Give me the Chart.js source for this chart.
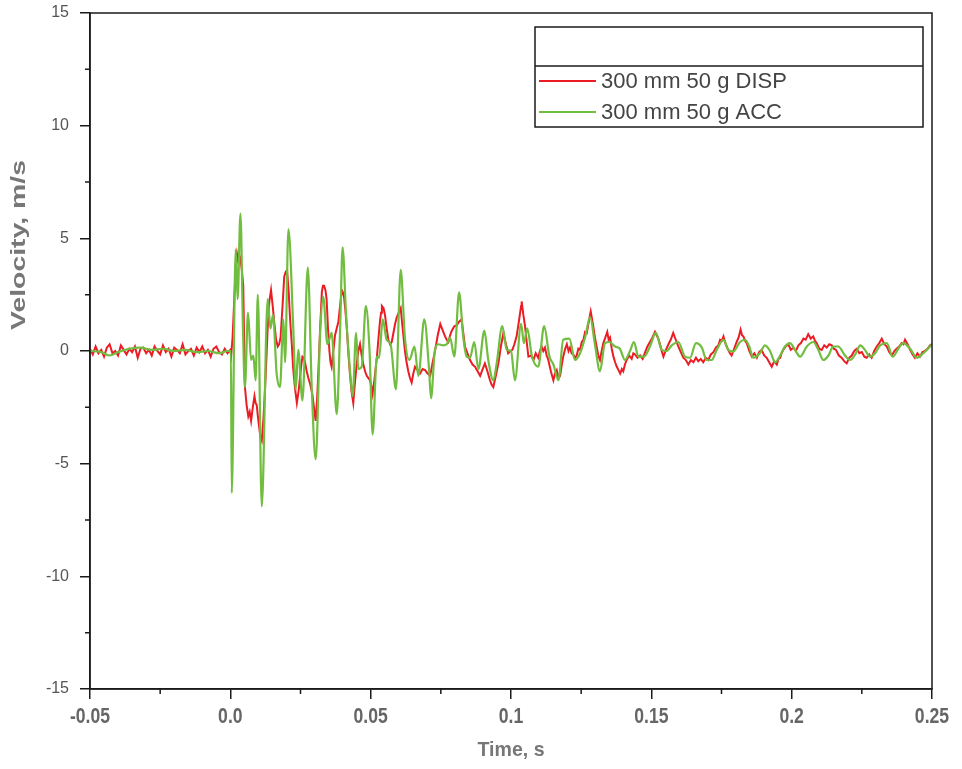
<!DOCTYPE html>
<html>
<head>
<meta charset="utf-8">
<script src="https://cdn.jsdelivr.net/npm/chart.js@4.4.1/dist/chart.umd.min.js"></script>
<style>
  html, body { margin: 0; padding: 0; background: #fff; }
  #wrap { width: 962px; height: 769px; }
</style>
</head>
<body>
<div id="wrap"><canvas id="velocityChart" width="962" height="769"></canvas></div>
<script>
// Velocity traces, 300 mm drop height, 50 g mass
const seriesLabels = ['300 mm 50 g DISP', '300 mm 50 g ACC'];

const dispTime = [
  -0.050,-0.049,-0.048,-0.047,-0.046,-0.045,-0.044,-0.043,-0.042,-0.041,
  -0.040,-0.039,-0.038,-0.037,-0.036,-0.035,-0.034,-0.033,-0.032,-0.031,
  -0.030,-0.029,-0.028,-0.027,-0.026,-0.025,-0.024,-0.023,-0.022,-0.021,
  -0.020,-0.019,-0.018,-0.017,-0.016,-0.015,-0.014,-0.013,-0.012,-0.011,
  -0.010,-0.009,-0.008,-0.007,-0.006,-0.005,-0.004,-0.003,-0.002,-0.001,
  0.0000,0.0003,0.0008,0.0013,0.0018,0.0024,0.0030,0.0036,0.0041,0.0046,
  0.0052,0.0058,0.0064,0.0069,0.0074,0.0080,0.0086,0.0090,0.0094,0.0099,
  0.0103,0.0108,0.0112,0.0118,0.0124,0.0129,0.0133,0.0139,0.0145,0.0151,
  0.0157,0.0163,0.0169,0.0174,0.0179,0.0186,0.0192,0.0197,0.0202,0.0208,
  0.0213,0.0219,0.0224,0.0230,0.0237,0.0243,0.0248,0.0253,0.0257,0.0262,
  0.0266,0.0272,0.0278,0.0285,0.0292,0.0298,0.0304,0.0309,0.0314,0.0320,
  0.0326,0.0330,0.0334,0.0339,0.0343,0.0348,0.0353,0.0357,0.0361,0.0367,
  0.0373,0.0379,0.0385,0.0391,0.0397,0.0401,0.0405,0.0410,0.0415,0.0420,
  0.0426,0.0432,0.0438,0.0444,0.0450,0.0456,0.0462,0.0468,0.0474,0.0480,
  0.0486,0.0492,0.0498,0.0503,0.0507,0.0514,0.0522,0.0528,0.0533,0.0537,
  0.0540,0.0546,0.0551,0.0557,0.0563,0.0569,0.0575,0.0581,0.0587,0.0593,
  0.0600,0.0607,0.0614,0.0622,0.0628,0.0634,0.0640,0.0646,0.0652,0.0658,
  0.0664,0.0670,0.0676,0.0685,0.0694,0.0703,0.0712,0.0721,0.0730,0.0739,
  0.0748,0.0757,0.0765,0.0771,0.0777,0.0783,0.0789,0.0798,0.0807,0.0815,
  0.0824,0.0830,0.0836,0.0845,0.0854,0.0863,0.0872,0.0881,0.0890,0.0899,
  0.0907,0.0916,0.0925,0.0931,0.0937,0.0946,0.0955,0.0964,0.0973,0.0982,
  0.0990,0.0998,0.1005,0.1012,0.1020,0.1028,0.1036,0.1038,0.1044,0.1050,
  0.1056,0.1062,0.1071,0.1080,0.1088,0.1097,0.1103,0.1109,0.1115,0.1121,
  0.1127,0.1133,0.1142,0.1151,0.1157,0.1163,0.1169,0.1175,0.1181,0.1186,
  0.1193,0.1199,0.1205,0.1210,0.1216,0.1222,0.1228,0.1234,0.1240,0.1246,
  0.1252,0.1258,0.1264,0.1270,0.1277,0.1284,0.1289,0.1293,0.1299,0.1305,
  0.1311,0.1317,0.1323,0.1329,0.1336,0.1343,0.1348,0.1353,0.1359,0.1365,
  0.1371,0.1377,0.1383,0.1389,0.1395,0.1400,0.1406,0.1412,0.1421,0.1430,
  0.1436,0.1442,0.1451,0.1460,0.1469,0.1478,0.1486,0.1495,0.1504,0.1513,
  0.1519,0.1525,0.1531,0.1537,0.1543,0.1552,0.1561,0.1569,0.1578,0.1587,
  0.1596,0.1605,0.1614,0.1623,0.1632,0.1641,0.1650,0.1659,0.1667,0.1676,
  0.1685,0.1694,0.1703,0.1712,0.1721,0.1730,0.1739,0.1745,0.1751,0.1757,
  0.1765,0.1774,0.1780,0.1786,0.1795,0.1804,0.1811,0.1818,0.1823,0.1828,
  0.1834,0.1840,0.1849,0.1858,0.1867,0.1876,0.1884,0.1893,0.1902,0.1911,
  0.1920,0.1929,0.1938,0.1947,0.1953,0.1959,0.1964,0.1970,0.1979,0.1988,
  0.1997,0.2006,0.2015,0.2024,0.2033,0.2042,0.2050,0.2059,0.2068,0.2077,
  0.2083,0.2089,0.2098,0.2107,0.2116,0.2125,0.2134,0.2143,0.2150,0.2158,
  0.2168,0.2178,0.2187,0.2196,0.2205,0.2214,0.2223,0.2232,0.2241,0.2250,
  0.2259,0.2267,0.2276,0.2285,0.2294,0.2303,0.2312,0.2321,0.2330,0.2339,
  0.2348,0.2357,0.2366,0.2374,0.2383,0.2392,0.2398,0.2404,0.2413,0.2422,
  0.2431,0.2439,0.2448,0.2457,0.2466,0.2475,0.2484,0.2493,0.2500
];
const dispVel = [
  0.10,-0.15,0.20,-0.10,0.05,-0.25,0.15,0.30,-0.10,0.00,
  -0.20,0.25,0.05,-0.15,0.10,-0.05,0.20,-0.30,0.10,0.15,
  -0.10,0.05,-0.20,0.20,0.00,-0.15,0.25,-0.05,0.10,-0.25,
  0.15,0.05,-0.10,0.30,-0.15,0.00,0.10,-0.20,0.15,-0.05,
  0.20,-0.10,0.05,-0.25,0.10,0.20,-0.05,-0.15,0.10,-0.10,
  0.05,-0.20,0.6,2.0,3.4,4.3,3.9,4.1,3.6,2.9,
  -1.6,-2.4,-2.9,-2.7,-3.1,-2.5,-2.0,-2.3,-2.4,-3.0,
  -3.4,-3.9,-4.0,-3.0,-1.6,-0.2,1.0,2.2,2.7,2.0,
  1.2,0.5,0.2,0.3,0.6,2.0,3.3,3.5,3.6,2.6,
  1.4,0.3,-0.8,-1.6,-2.3,-1.8,-1.2,-0.6,-0.25,-0.3,
  -0.5,-0.9,-1.2,-1.5,-1.9,-2.5,-3.1,-2.2,-0.8,1.0,
  2.6,2.9,2.9,2.7,2.3,1.0,0.0,-0.5,-0.7,0.0,
  0.7,1.0,1.3,2.0,2.7,2.6,2.4,1.8,1.0,0.0,
  -1.0,-1.8,-2.3,-1.4,-0.6,0.0,0.3,-0.2,-0.6,-0.9,
  -1.1,-1.2,-1.3,-1.6,-1.9,-1.2,-0.3,0.6,1.3,1.7,
  2.0,1.9,1.6,1.0,0.5,0.3,0.4,0.8,1.2,1.5,
  1.7,1.9,1.0,0.0,-0.5,-0.9,-1.2,-1.4,-1.0,-0.7,
  -0.8,-0.9,-1.0,-0.8,-0.85,-1.0,-1.1,-0.5,0.05,0.7,
  1.2,0.9,0.65,0.5,0.4,0.7,0.9,1.1,1.15,1.3,
  1.4,0.8,0.2,-0.1,-0.4,-0.6,-0.7,-0.9,-1.1,-0.8,
  -0.55,-0.9,-1.3,-1.5,-1.6,-1.1,-0.55,0.2,0.8,0.3,
  -0.1,0.0,0.05,0.3,0.65,1.3,2.0,2.2,1.6,1.1,
  0.4,-0.25,-0.2,-0.4,-0.1,-0.3,0.0,0.2,0.0,0.15,
  -0.2,-0.4,-0.9,-1.3,-1.0,-0.85,-1.2,-1.1,-0.6,-0.25,
  0.1,0.3,0.0,0.15,-0.1,-0.15,-0.3,-0.2,0.1,0.05,
  0.4,0.5,0.85,0.8,1.3,1.75,1.4,1.1,0.6,0.2,
  -0.2,-0.4,0.0,0.35,0.6,0.85,0.5,0.6,0.1,-0.25,
  -0.5,-0.7,-0.85,-1.0,-0.8,-0.9,-0.6,-0.4,-0.2,-0.35,
  -0.1,-0.15,-0.3,-0.2,-0.35,-0.05,0.2,0.4,0.6,0.85,
  0.7,0.55,0.3,0.0,-0.25,0.05,0.3,0.5,0.8,0.5,
  0.2,-0.05,-0.3,-0.4,-0.6,-0.4,-0.5,-0.3,-0.45,-0.35,
  -0.5,-0.3,-0.4,-0.15,-0.05,0.15,0.25,0.5,0.45,0.65,
  0.3,0.05,-0.1,-0.2,0.1,0.4,0.6,0.95,0.7,0.65,
  0.45,0.35,0.0,-0.25,-0.1,-0.3,-0.05,0.05,-0.2,-0.3,
  -0.5,-0.7,-0.45,-0.6,-0.35,-0.3,-0.1,0.05,0.2,0.3,
  0.05,0.15,0.0,0.25,0.35,0.55,0.5,0.75,0.55,0.65,
  0.45,0.35,0.1,0.05,0.25,0.15,0.3,0.25,0.1,0.05,
  -0.2,-0.3,-0.45,-0.55,-0.3,-0.2,0.0,0.1,-0.1,-0.05,
  -0.25,-0.3,-0.15,-0.3,0.0,0.2,0.35,0.55,0.3,0.2,
  -0.05,-0.2,0.0,0.1,0.2,0.35,0.3,0.5,0.3,0.05,
  -0.15,-0.3,-0.1,-0.25,-0.05,0.0,0.1,0.25,0.3
];

const accTime = [
  -0.050,-0.046,-0.043,-0.040,-0.036,-0.032,-0.028,-0.024,-0.020,-0.016,
  -0.012,-0.008,-0.004,-0.001,0.0002,0.0005,0.0019,0.0026,0.0036,0.0045,
  0.0052,0.0063,0.0074,0.0082,0.0090,0.0098,0.0112,0.0133,0.0143,0.0152,
  0.0165,0.0177,0.0189,0.0195,0.0207,0.0224,0.0233,0.0242,0.0257,0.0276,
  0.0290,0.0304,0.0320,0.0331,0.0346,0.0361,0.0379,0.0391,0.0400,0.0412,
  0.0426,0.0436,0.0448,0.0456,0.0468,0.0483,0.0496,0.0507,0.0522,0.0530,
  0.0543,0.0557,0.0571,0.0590,0.0607,0.0622,0.0638,0.0656,0.0670,0.0691,
  0.0708,0.0715,0.0729,0.0741,0.0759,0.0771,0.0783,0.0798,0.0815,0.0830,
  0.0842,0.0854,0.0869,0.0884,0.0905,0.0919,0.0937,0.0949,0.0969,0.0985,
  0.1000,0.1014,0.1036,0.1046,0.1058,0.1074,0.1097,0.1118,0.1137,0.1151,
  0.1169,0.1186,0.1208,0.1228,0.1246,0.1264,0.1282,0.1299,0.1317,0.1335,
  0.1350,0.1371,0.1388,0.1406,0.1424,0.1438,0.1454,0.1474,0.1495,0.1516,
  0.1537,0.1555,0.1573,0.1596,0.1620,0.1638,0.1659,0.1680,0.1697,0.1715,
  0.1733,0.1757,0.1774,0.1792,0.1816,0.1834,0.1849,0.1863,0.1887,0.1905,
  0.1923,0.1941,0.1959,0.1976,0.1994,0.2012,0.2030,0.2054,0.2077,0.2095,
  0.2113,0.2131,0.2148,0.2166,0.2190,0.2208,0.2229,0.2244,0.2261,0.2279,
  0.2297,0.2315,0.2339,0.2360,0.2380,0.2398,0.2422,0.2446,0.2469,0.2493,
  0.2500
];
const accVel = [
  0.0,-0.05,-0.2,-0.05,0.1,0.15,0.05,0.1,0.0,0.05,
  -0.05,0.0,-0.1,0.0,0.0,-6.3,4.5,2.3,6.1,1.0,
  -1.6,1.7,-0.4,-0.2,-1.3,2.5,-6.9,2.3,1.0,1.6,
  -1.0,-1.6,1.4,-0.5,5.4,1.1,-1.7,0.05,-2.2,3.7,
  -1.6,-4.8,0.8,2.4,0.3,0.8,-2.8,0.9,4.6,1.7,
  -0.8,-2.0,0.8,-0.8,-0.7,2.0,0.0,-3.7,-0.25,-0.3,
  1.4,0.5,0.3,-1.7,3.6,0.6,-0.4,0.2,-1.1,1.4,
  -0.8,-2.1,0.05,0.3,0.25,0.3,0.6,-0.25,2.6,0.6,
  -0.25,-0.3,0.4,-0.8,0.9,-0.4,-1.3,-0.55,1.1,0.05,
  0.0,-1.3,1.2,0.35,1.0,-0.2,-0.7,1.1,-0.25,-0.6,
  -1.3,0.5,0.55,-0.4,-0.1,0.6,1.5,0.3,-0.9,0.35,
  0.4,0.2,0.1,-0.4,0.0,0.4,-0.25,-0.25,0.2,0.8,
  0.05,0.0,0.25,0.4,-0.25,-0.3,0.35,0.15,-0.4,-0.4,
  0.05,0.5,0.05,-0.02,0.4,0.5,0.2,-0.3,-0.1,0.25,
  0.0,-0.5,-0.2,0.2,0.35,0.05,-0.25,0.2,0.4,0.05,
  -0.4,-0.2,0.2,0.2,-0.2,-0.4,-0.1,0.25,0.05,-0.25,
  -0.1,0.25,0.35,-0.25,0.1,0.35,0.1,-0.3,-0.1,0.2,
  0.3
];

const xMin = -0.05, xMax = 0.25, xStep = 0.05;
const yMin = -15, yMax = 15, yStep = 5;
const xMinorTicks = [-0.025, 0.025, 0.075, 0.125, 0.175, 0.225];
const yMinorTicks = [-12.5, -7.5, -2.5, 2.5, 7.5, 12.5];

const colors = ['#ec1c24', '#70bd40'];

function toPoints(ts, vs) {
  return ts.map((t, i) => ({ x: t, y: vs[i] }));
}

function timeLabel(v) {
  return Math.abs(v) < 1e-9 ? '0.0' : String(Math.round(v * 100) / 100);
}

// draw text squeezed or stretched along its own direction
function fitText(ctx, text, x, y, sx) {
  ctx.save();
  ctx.translate(x, y);
  ctx.scale(sx, 1);
  ctx.fillText(text, 0, 0);
  ctx.restore();
}

// frame, minor ticks, condensed x labels, axis titles and the boxed legend
const decorations = {
  id: 'decorations',
  afterDraw(chart) {
    const ctx = chart.ctx;
    const a = chart.chartArea;
    const xs = chart.scales.x, ys = chart.scales.y;
    ctx.save();
    ctx.strokeStyle = '#1a1a1a';
    ctx.lineWidth = 1.5;
    ctx.strokeRect(a.left, a.top, a.right - a.left, a.bottom - a.top);

    ctx.beginPath();
    xMinorTicks.forEach(v => {
      const px = xs.getPixelForValue(v);
      ctx.moveTo(px, a.bottom); ctx.lineTo(px, a.bottom + 5);
    });
    yMinorTicks.forEach(v => {
      const py = ys.getPixelForValue(v);
      ctx.moveTo(a.left, py); ctx.lineTo(a.left - 5, py);
    });
    ctx.stroke();

    // x tick labels, condensed bold
    ctx.fillStyle = '#666';
    ctx.textAlign = 'center';
    ctx.textBaseline = 'middle';
    ctx.font = "bold 22px 'Liberation Sans', Arial, sans-serif";
    xs.ticks.forEach(t => {
      fitText(ctx, timeLabel(t.value), xs.getPixelForValue(t.value), 717, 0.8);
    });

    // axis titles
    ctx.fillStyle = '#777';
    ctx.font = "bold 21px 'Liberation Sans', Arial, sans-serif";
    let w = ctx.measureText('Time, s').width;
    fitText(ctx, 'Time, s', (a.left + a.right) / 2, 750, 67 / w);

    ctx.font = "bold 20px 'Liberation Sans', Arial, sans-serif";
    w = ctx.measureText('Velocity, m/s').width;
    ctx.save();
    ctx.translate(19, 245);
    ctx.rotate(-Math.PI / 2);
    fitText(ctx, 'Velocity, m/s', 0, 0, 170 / w);
    ctx.restore();

    // legend box
    const L = 535, R = 923, T = 27, D = 66, B = 127;
    ctx.strokeStyle = '#1a1a1a';
    ctx.lineWidth = 1.5;
    ctx.strokeRect(L, T, R - L, B - T);
    ctx.beginPath();
    ctx.moveTo(L, D); ctx.lineTo(R, D);
    ctx.stroke();
    const rows = [81, 112];
    ctx.font = "22px 'Liberation Sans', Arial, sans-serif";
    ctx.textAlign = 'left';
    seriesLabels.forEach((lab, i) => {
      ctx.strokeStyle = colors[i];
      ctx.lineWidth = 2;
      ctx.beginPath();
      ctx.moveTo(539, rows[i]); ctx.lineTo(596, rows[i]);
      ctx.stroke();
      ctx.fillStyle = '#444';
      ctx.fillText(lab, 601, rows[i] + 1);
    });
    ctx.restore();
  }
};

new Chart(document.getElementById('velocityChart'), {
  type: 'line',
  data: {
    datasets: [
      {
        label: seriesLabels[0],
        data: toPoints(dispTime, dispVel),
        borderColor: colors[0],
        borderWidth: 2,
        pointRadius: 0,
        tension: 0,
        order: 2
      },
      {
        label: seriesLabels[1],
        data: toPoints(accTime, accVel),
        borderColor: colors[1],
        borderWidth: 2.2,
        pointRadius: 0,
        cubicInterpolationMode: 'monotone',
        order: 1
      }
    ]
  },
  options: {
    responsive: false,
    animation: false,
    devicePixelRatio: 1,
    layout: { padding: { top: 13, right: 30, left: 0, bottom: 0 } },
    plugins: {
      legend: { display: false },
      tooltip: { enabled: false }
    },
    scales: {
      x: {
        type: 'linear',
        min: xMin, max: xMax,
        afterFit: s => {
          s.height = 80;
          s.paddingLeft = 0; s.paddingRight = 0;
        },
        border: { display: true, color: '#1a1a1a', width: 1.5 },
        grid: { drawOnChartArea: false, tickLength: 10, color: '#1a1a1a', lineWidth: 1.5 },
        ticks: {
          stepSize: xStep,
          color: 'rgba(0,0,0,0)',
          callback: timeLabel
        }
      },
      y: {
        min: yMin, max: yMax,
        afterFit: s => {
          s.width = 90;
          s.paddingTop = 0; s.paddingBottom = 0;
        },
        border: { display: true, color: '#1a1a1a', width: 1.5 },
        grid: { drawOnChartArea: false, tickLength: 10, color: '#1a1a1a', lineWidth: 1.5 },
        ticks: {
          stepSize: yStep,
          padding: 11,
          color: '#555',
          font: { family: "'Liberation Sans', Arial, sans-serif", size: 16 }
        }
      }
    }
  },
  plugins: [decorations]
});
</script>
</body>
</html>
